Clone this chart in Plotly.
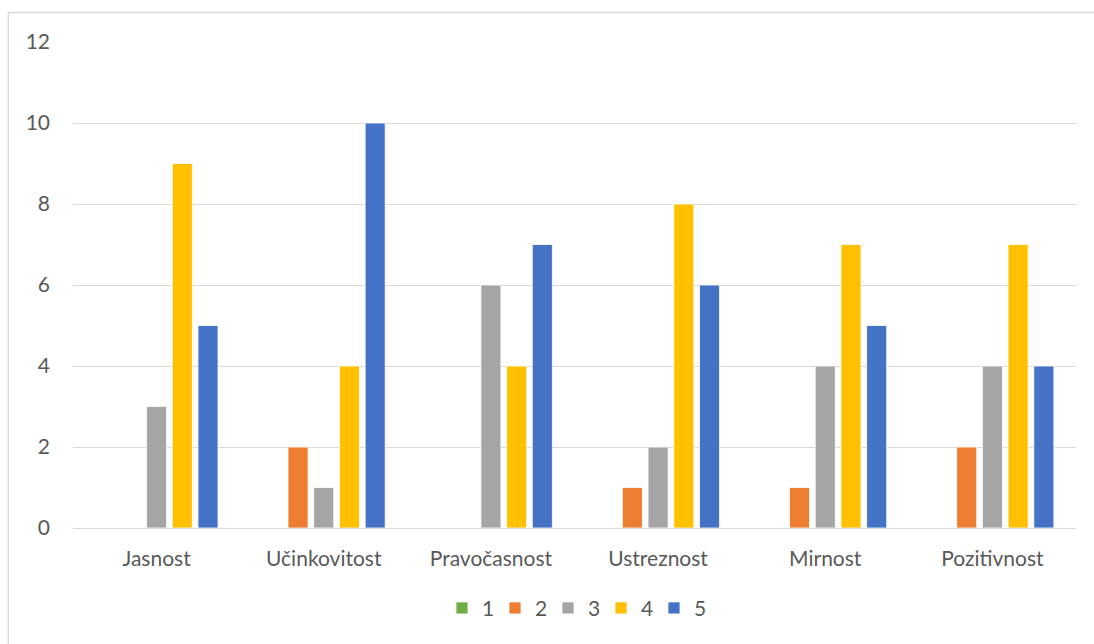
import plotly.graph_objects as go

categories = ["Jasnost", "Učinkovitost", "Pravočasnost", "Ustreznost", "Mirnost", "Pozitivnost"]
series_names = ["1", "2", "3", "4", "5"]
s1 = [0, 0, 0, 0, 0, 0]
s2 = [0, 2, 0, 1, 1, 2]
s3 = [3, 1, 6, 2, 4, 4]
s4 = [9, 4, 4, 8, 7, 7]
s5 = [5, 10, 7, 6, 5, 4]
colors = ["#70AD47", "#ED7D31", "#A5A5A5", "#FFC000", "#4472C4"]
y_ticks = [0, 2, 4, 6, 8, 10, 12]

fig = go.Figure()
for name, vals, col in zip(series_names, [s1, s2, s3, s4, s5], colors):
    fig.add_trace(go.Bar(x=categories, y=vals, name=name,
                         marker=dict(color=col, line=dict(color="white", width=0.8))))

W, H = 1094, 644
L, R, T, B = 72.7, 18.3, 41.5, 116.3
pw = W - L - R
ph = H - T - B

def px_x(p):
    return (p - L) / pw

def px_y(p):
    return (H - B - p) / ph

FS = 21
fig.update_layout(
    width=W, height=H,
    margin=dict(l=L, r=R, t=T, b=B, autoexpand=False),
    paper_bgcolor="white", plot_bgcolor="white",
    barmode="group", bargap=0.231, bargroupgap=0.22,
    font=dict(family="Lato, Carlito, Calibri, sans-serif", size=FS, color="#595959"),
    xaxis=dict(showgrid=False, showline=True, linecolor="#D9D9D9", linewidth=1,
               ticks="", ticklabelstandoff=12, tickfont=dict(size=FS, color="#595959")),
    yaxis=dict(range=[0, 12], tickvals=y_ticks, showgrid=True, gridcolor="#D9D9D9",
               gridwidth=1, zeroline=False, showline=False, ticks="",
               ticklabelstandoff=22, tickfont=dict(size=FS, color="#595959")),
    legend=dict(orientation="h", x=0.5, xanchor="center", y=px_y(608), yanchor="middle",
                font=dict(size=FS, color="#595959"), itemwidth=30, traceorder="normal",
                entrywidth=8, entrywidthmode="pixels"),
    showlegend=True,
    shapes=[dict(type="rect", xref="paper", yref="paper",
                 x0=px_x(8), x1=px_x(1200), y0=px_y(800), y1=px_y(12),
                 line=dict(color="#D9D9D9", width=1.3), fillcolor="rgba(0,0,0,0)", layer="below")],
)

fig.write_html("out.html")
